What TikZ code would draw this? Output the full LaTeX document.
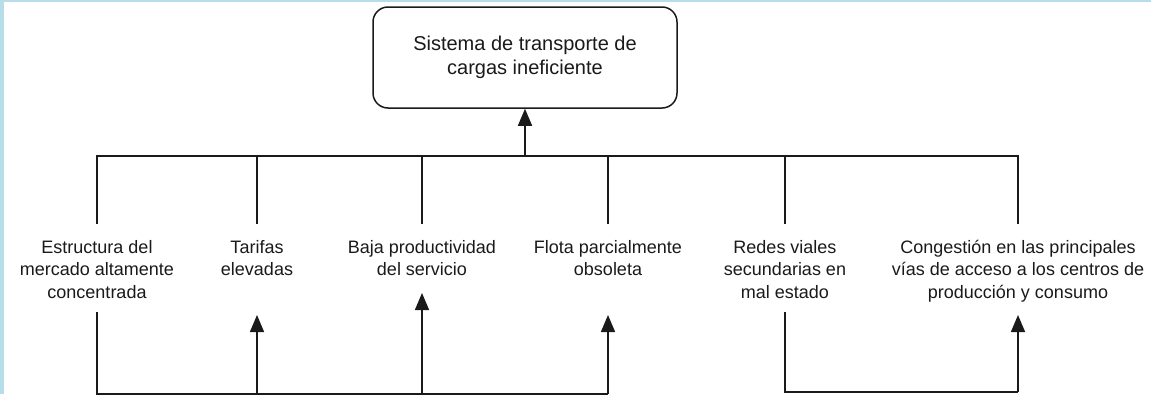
\documentclass[tikz,border=0pt]{standalone}
\usepackage{fontspec}
\setmainfont{Liberation Sans}
\usetikzlibrary{arrows.meta}
\definecolor{framecol}{HTML}{B7DDE8}
\definecolor{ink}{HTML}{1A1A1A}
\begin{document}
\begin{tikzpicture}[x=1pt,y=-1pt,
  conn/.style={line width=1.5pt, draw=ink},
  arr/.style={conn,-{Triangle[length=17pt,width=14pt]}},
  lbl/.style={anchor=north, inner sep=0pt, align=center, text=ink,
              font=\fontsize{18}{22.5}\selectfont},
  topbox/.style={draw=ink, line width=1.5pt, rounded corners=15pt,
              minimum width=304pt, minimum height=101pt, align=center, text=ink,
              font=\fontsize{20}{24}\selectfont}]
\useasboundingbox (0,0) rectangle (1151,394);
\fill[white] (0,0) rectangle (1151,394);
\fill[framecol] (0,0) rectangle (4,394);
\fill[framecol] (0,0) rectangle (1151,2);

\node[topbox] (top) at (525,57.5) {Sistema de transporte de\\cargas ineficiente};

\node[lbl] (l1) at (97,240)  {Estructura del\\mercado altamente\\concentrada};
\node[lbl] (l2) at (257,240) {Tarifas\\elevadas};
\node[lbl] (l3) at (422,240) {Baja productividad\\del servicio};
\node[lbl] (l4) at (608,240) {Flota parcialmente\\obsoleta};
\node[lbl] (l5) at (785,240) {Redes viales\\secundarias en\\mal estado};
\node[lbl] (l6) at (1018,240) {Congestión en las principales\\vías de acceso a los centros de\\producción y consumo};

% top bus
\coordinate (bus) at (525,156);
\draw[conn] ([yshift=16pt]l1.north) |- (bus) -| ([yshift=16pt]l6.north);
\draw[conn] ([yshift=16pt]l2.north) -- (l2.north |- bus);
\draw[conn] ([yshift=16pt]l3.north) -- (l3.north |- bus);
\draw[conn] ([yshift=16pt]l4.north) -- (l4.north |- bus);
\draw[conn] ([yshift=16pt]l5.north) -- (l5.north |- bus);
\draw[arr] (bus) -- (top.south);

% lower connections
\coordinate (s1) at (97,312);
\coordinate (t2) at (257,315);
\coordinate (t3) at (422,293);
\coordinate (t4) at (608,315);
\coordinate (s5) at (785,312);
\coordinate (t6) at (1018,315);
\coordinate (lowL) at (0,394.2);
\coordinate (lowR) at (0,392);

\draw[conn] (s1) -- (s1 |- lowL) -- (t4 |- lowL);
\draw[arr] (t2 |- lowL) -- (t2);
\draw[arr] (t3 |- lowL) -- (t3);
\draw[arr] (t4 |- lowL) -- (t4);
\draw[conn] (s5) -- (s5 |- lowR) -- (t6 |- lowR);
\draw[arr] (t6 |- lowR) -- (t6);
\end{tikzpicture}
\end{document}
